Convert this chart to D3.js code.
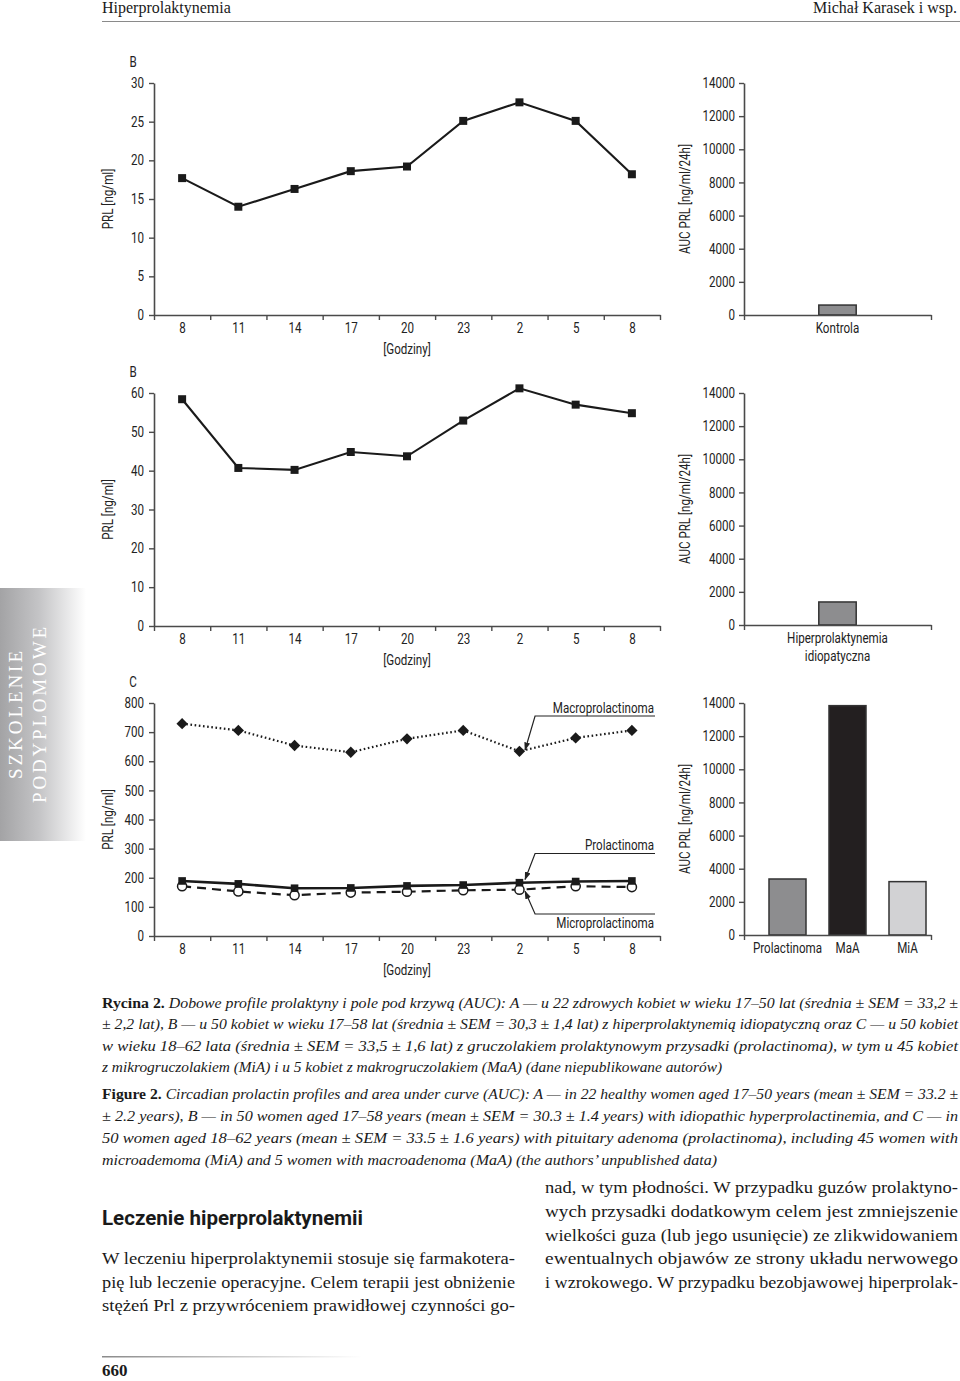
<!DOCTYPE html>
<html><head><meta charset="utf-8">
<script src="https://cdn.jsdelivr.net/npm/d3@7/dist/d3.min.js"></script>
<style>
html,body{margin:0;padding:0;background:#fff;}
svg{display:block;}
</style></head>
<body>
<svg id="page" width="960" height="1381"></svg>
<script>
// ---------------- DATA ----------------
const hours = ["8","11","14","17","20","23","2","5","8"];
const prlA = [17.7,14.0,16.3,18.6,19.2,25.1,27.5,25.1,18.2];
const prlB = [58.4,40.7,40.2,44.8,43.7,52.9,61.2,57.0,54.8];
const macroC = [729,706,654,631,677,706,634,680,706];
const prolactC = [189,179,164,165,172,175,183,187,189];
const microC = [171,153,140,149,152,157,159,171,168];
const aucCatsA = ["Kontrola"];
const aucValsA = [600];
const aucCatsB = ["Hiperprolaktynemia idiopatyczna"];
const aucValsB = [1390];
const aucCatsC = ["Prolactinoma","MaA","MiA"];
const aucValsC = [3380,13840,3220];
const aucTicks = [0,2000,4000,6000,8000,10000,12000,14000];
const ticksA = [0,5,10,15,20,25,30];
const ticksB = [0,10,20,30,40,50,60];
const ticksC = [0,100,200,300,400,500,600,700,800];

// ---------------- STYLE ----------------
const SANS = "Roboto,'Liberation Sans',sans-serif";
const FS = 14.5;
const SERIF = "'Liberation Serif','DejaVu Serif',serif";
const AX = "#4a4a4a";
const svg = d3.select("#page");

const defs = svg.append("defs");
const sideGrad = defs.append("linearGradient").attr("id","sideGrad").attr("x1","0").attr("x2","1").attr("y1","0").attr("y2","0");
sideGrad.append("stop").attr("offset","0").attr("stop-color","#a3a3a5");
sideGrad.append("stop").attr("offset","0.45").attr("stop-color","#c4c4c6");
sideGrad.append("stop").attr("offset","1").attr("stop-color","#ffffff");
const footGrad = defs.append("linearGradient").attr("id","footGrad").attr("x1","0").attr("x2","1");
footGrad.append("stop").attr("offset","0").attr("stop-color","#8a8a8a");
footGrad.append("stop").attr("offset","1").attr("stop-color","#ffffff");
defs.append("marker").attr("id","arrow").attr("viewBox","0 0 10 10").attr("refX",9).attr("refY",5)
  .attr("markerWidth",7).attr("markerHeight",7).attr("orient","auto-start-reverse")
  .append("path").attr("d","M0,1.5 L10,5 L0,8.5 Z").attr("fill","#222");

function label(xp, yp, s, anchor){
  return svg.append("text").attr("class","cn").attr("x",xp).attr("y",yp).attr("text-anchor",anchor||"start")
    .attr("font-family",SANS).attr("font-size",FS).attr("fill","#222").text(s);
}
function vlabel(xp, yp, s){
  return svg.append("text").attr("class","cn").attr("transform",`translate(${xp},${yp}) rotate(-90)`).attr("text-anchor","middle")
    .attr("font-family",SANS).attr("font-size",FS).attr("fill","#222").text(s);
}

// ---------------- HEADER ----------------
svg.append("text").attr("x",102).attr("y",13).attr("font-family",SERIF).attr("font-size",16)
  .attr("fill","#1a1a1a").text("Hiperprolaktynemia");
svg.append("text").attr("x",957).attr("y",13).attr("text-anchor","end").attr("font-family",SERIF).attr("font-size",16)
  .attr("fill","#1a1a1a").text("Michał Karasek i wsp.");
svg.append("line").attr("x1",102).attr("x2",960).attr("y1",21.5).attr("y2",21.5).attr("stroke","#8a8a8a").attr("stroke-width",1);

// side tab
svg.append("rect").attr("x",0).attr("y",588).attr("width",86).attr("height",253).attr("fill","url(#sideGrad)");
svg.append("text").attr("transform","translate(22,715) rotate(-90)").attr("text-anchor","middle")
  .attr("font-family",SERIF).attr("font-size",19).attr("fill","#fff").attr("textLength",128).attr("lengthAdjust","spacing").text("SZKOLENIE");
svg.append("text").attr("transform","translate(46,715) rotate(-90)").attr("text-anchor","middle")
  .attr("font-family",SERIF).attr("font-size",19).attr("fill","#fff").attr("textLength",176).attr("lengthAdjust","spacing").text("PODYPLOMOWE");

// ---------------- HELPERS ----------------
const X0 = 154, X1 = 660;
const x = d3.scaleLinear().domain([0,9]).range([X0,X1]);

function styleAxis(g){
  g.selectAll("path.domain").attr("stroke",AX).attr("stroke-width",1.6);
  g.selectAll(".tick line").attr("stroke",AX).attr("stroke-width",1.4);
  g.selectAll("text").attr("class","cn").attr("font-family",SANS).attr("font-size",FS).attr("fill","#222");
}

function lineFrame(top, bottom, maxV, ticks, letter){
  const y = d3.scaleLinear().domain([0,maxV]).range([bottom, top]);
  const gy = svg.append("g").attr("transform",`translate(${X0},0)`)
    .call(d3.axisLeft(y).tickValues(ticks).tickSize(5).tickSizeOuter(0).tickPadding(5).tickFormat(d3.format("d")));
  styleAxis(gy);
  const gx = svg.append("g").attr("transform",`translate(0,${bottom})`)
    .call(d3.axisBottom(x).tickValues(d3.range(10)).tickSize(5).tickSizeOuter(0).tickFormat(""));
  styleAxis(gx);
  const gl = svg.append("g").attr("transform",`translate(0,${bottom})`)
    .call(d3.axisBottom(x).tickValues(d3.range(9).map(i=>i+0.5)).tickSize(0).tickPadding(8)
      .tickFormat(d=>hours[Math.round(d-0.5)]));
  gl.select("path.domain").remove();
  styleAxis(gl);
  label(133, top-16, letter, "middle");
  vlabel(113, (top+bottom)/2, "PRL [ng/ml]");
  label((X0+X1)/2, bottom+39, "[Godziny]", "middle");
  return y;
}

function drawSeries(y, vals, opt){
  const line = d3.line().x((d,i)=>x(i+0.5)).y(d=>y(d));
  svg.append("path").datum(vals).attr("d",line).attr("fill","none").attr("stroke","#1a1a1a")
    .attr("stroke-width",opt.width||2).attr("stroke-dasharray",opt.dash||null);
  svg.append("g").selectAll("path").data(vals).join("path")
    .attr("transform",(d,i)=>`translate(${x(i+0.5)},${y(d)})${opt.rot?" rotate(45)":""}`)
    .attr("d", d3.symbol().type(opt.shape==="circle"?d3.symbolCircle:d3.symbolSquare).size(opt.size||64)())
    .attr("fill",opt.fill||"#1a1a1a").attr("stroke",opt.stroke||"none").attr("stroke-width",opt.sw||0);
}

function barFrame(top, bottom, cats, vals, colors, range, pin, pout){
  const XB0 = 744, XB1 = 931;
  const y = d3.scaleLinear().domain([0,14000]).range([bottom, top]);
  const xb = d3.scaleBand().domain(cats).range(range).paddingInner(pin).paddingOuter(pout);
  svg.append("g").selectAll("rect").data(vals).join("rect")
    .attr("x",(d,i)=>xb(cats[i])).attr("width",xb.bandwidth())
    .attr("y",d=>y(d)).attr("height",d=>bottom-y(d))
    .attr("fill",(d,i)=>colors[i]).attr("stroke","#333").attr("stroke-width",1.5);
  const gy = svg.append("g").attr("transform",`translate(${XB0},0)`)
    .call(d3.axisLeft(y).tickValues(aucTicks).tickSize(5).tickSizeOuter(0).tickPadding(4).tickFormat(d3.format("d")));
  styleAxis(gy);
  const xf = d3.scaleLinear().domain([0,1]).range([XB0,XB1]);
  const gx = svg.append("g").attr("transform",`translate(0,${bottom})`)
    .call(d3.axisBottom(xf).tickValues([0,1]).tickSize(5).tickSizeOuter(0).tickFormat(""));
  styleAxis(gx);
  const gl = svg.append("g").attr("transform",`translate(0,${bottom})`)
    .call(d3.axisBottom(xb).tickSize(0).tickPadding(8));
  gl.select("path.domain").remove();
  styleAxis(gl);
  gl.selectAll(".tick text").each(function(d){
    const words = d.split(" ");
    if(words.length>1){
      const t = d3.select(this); t.text(null);
      words.forEach((w,k)=>t.append("tspan").attr("x",0).attr("dy",k===0?"0.71em":"1.2em").text(w));
    }
  });
  vlabel(690, (top+bottom)/2, "AUC PRL [ng/ml/24h]");
}

// ---------------- PANEL A ----------------
const yA = lineFrame(83, 315, 30, ticksA, "B");
drawSeries(yA, prlA, {width:2.1, size:64});
barFrame(83, 315, aucCatsA, aucValsA, ["#8d8d8f"], [744,931], 0.8, 0.4);

// ---------------- PANEL B ----------------
const yB = lineFrame(393, 626, 60, ticksB, "B");
drawSeries(yB, prlB, {width:2.1, size:64});
barFrame(393, 625, aucCatsB, aucValsB, ["#8d8d8f"], [744,931], 0.8, 0.4);

// ---------------- PANEL C ----------------
const yC = lineFrame(703, 936, 800, ticksC, "C");
drawSeries(yC, macroC, {width:2.2, dash:"1.6,2.6", shape:"square", rot:true, size:64});
drawSeries(yC, microC, {width:2.2, dash:"9,6", shape:"circle", size:66, fill:"#fff", stroke:"#1a1a1a", sw:1.5});
drawSeries(yC, prolactC, {width:2.6, size:58});
barFrame(703, 935, aucCatsC, aucValsC, ["#8d8d8f","#231f20","#d2d2d4"], [751,944], 0.3833, 0.3);

// callouts
function interp(vals, t){ const i=Math.floor(t), f=t-i; return vals[i]+(vals[i+1]-vals[i])*f; }
function callout(lab, vals, t, dy, lineY, textY){
  const tipX = x(t+0.5), tipY = yC(interp(vals,t)) + dy;
  const startX = tipX + 10;
  svg.append("path").attr("d",`M655,${lineY} L${startX},${lineY} L${tipX},${tipY}`)
    .attr("fill","none").attr("stroke","#222").attr("stroke-width",1.2).attr("marker-end","url(#arrow)");
  label(654, textY, lab, "end");
}
callout("Macroprolactinoma", macroC, 6.1, 0, 716, 713);
callout("Prolactinoma", prolactC, 6.1, -3, 853.5, 850);
callout("Microprolactinoma", microC, 6.1, 2, 914, 928);

// condense sans labels (narrow typeface look)
svg.selectAll("text.cn").each(function(){
  const tsp = this.querySelectorAll("tspan");
  const f = 0.8;
  if(tsp.length){
    tsp.forEach(ts=>{ const L = ts.getComputedTextLength(); ts.setAttribute("textLength", L*f); ts.setAttribute("lengthAdjust","spacingAndGlyphs"); });
  } else {
    const L = this.getComputedTextLength();
    this.setAttribute("textLength", L*f); this.setAttribute("lengthAdjust","spacingAndGlyphs");
  }
});

// ---------------- CAPTION ----------------
const capLines = [
  {b:"Rycina 2.", t:" Dobowe profile prolaktyny i pole pod krzywą (AUC): A — u 22 zdrowych kobiet w wieku 17–50 lat (średnia ± SEM = 33,2 ±", y:1008, w:856},
  {b:"", t:"± 2,2 lat), B — u 50 kobiet w wieku 17–58 lat (średnia ± SEM = 30,3 ± 1,4 lat) z hiperprolaktynemią idiopatyczną oraz C — u 50 kobiet", y:1029, w:856},
  {b:"", t:"w wieku 18–62 lata (średnia ± SEM = 33,5 ± 1,6 lat) z gruczolakiem prolaktynowym przysadki (prolactinoma), w tym u 45 kobiet", y:1051, w:856},
  {b:"", t:"z mikrogruczolakiem (MiA) i u 5 kobiet z makrogruczolakiem (MaA) (dane niepublikowane autorów)", y:1072, w:620},
  {b:"Figure 2.", t:" Circadian prolactin profiles and area under curve (AUC): A — in 22 healthy women aged 17–50 years (mean ± SEM = 33.2 ±", y:1099, w:856},
  {b:"", t:"± 2.2 years), B — in 50 women aged 17–58 years (mean ± SEM = 30.3 ± 1.4 years) with idiopathic hyperprolactinemia, and C — in", y:1121, w:856},
  {b:"", t:"50 women aged 18–62 years (mean ± SEM = 33.5 ± 1.6 years) with pituitary adenoma (prolactinoma), including 45 women with", y:1143, w:856},
  {b:"", t:"microademoma (MiA) and 5 women with macroadenoma (MaA) (the authors’ unpublished data)", y:1165, w:615}
];
capLines.forEach(l=>{
  const t = svg.append("text").attr("x",102).attr("y",l.y).attr("font-family",SERIF).attr("font-size",15.5)
    .attr("fill","#1a1a1a").attr("textLength",l.w).attr("lengthAdjust","spacingAndGlyphs");
  if(l.b) t.append("tspan").attr("font-weight","bold").text(l.b);
  t.append("tspan").attr("font-style","italic").text(l.t);
});

// ---------------- BODY TEXT ----------------
svg.append("text").attr("x",102).attr("y",1225).attr("font-family","Roboto,'Liberation Sans',sans-serif")
  .attr("font-weight","bold").attr("font-size",21).attr("fill","#1a1a1a").attr("textLength",261).attr("lengthAdjust","spacingAndGlyphs")
  .text("Leczenie hiperprolaktynemii");
const leftCol = [
  ["W leczeniu hiperprolaktynemii stosuje się farmakotera-",1264],
  ["pię lub leczenie operacyjne. Celem terapii jest obniżenie",1288],
  ["stężeń Prl z przywróceniem prawidłowej czynności go-",1311]
];
const rightCol = [
  ["nad, w tym płodności. W przypadku guzów prolaktyno-",1193],
  ["wych przysadki dodatkowym celem jest zmniejszenie",1217],
  ["wielkości guza (lub jego usunięcie) ze zlikwidowaniem",1241],
  ["ewentualnych objawów ze strony układu nerwowego",1264],
  ["i wzrokowego. W przypadku bezobjawowej hiperprolak-",1288]
];
leftCol.forEach(([s,yy])=>svg.append("text").attr("x",102).attr("y",yy).attr("font-family",SERIF).attr("font-size",17.5)
  .attr("fill","#1a1a1a").attr("textLength",413).attr("lengthAdjust","spacingAndGlyphs").text(s));
rightCol.forEach(([s,yy])=>svg.append("text").attr("x",545).attr("y",yy).attr("font-family",SERIF).attr("font-size",17.5)
  .attr("fill","#1a1a1a").attr("textLength",413).attr("lengthAdjust","spacingAndGlyphs").text(s));

// ---------------- FOOTER ----------------
svg.append("rect").attr("x",102).attr("y",1356).attr("width",260).attr("height",1.5).attr("fill","url(#footGrad)");
svg.append("text").attr("x",102).attr("y",1376).attr("font-family",SERIF).attr("font-weight","bold").attr("font-size",17)
  .attr("fill","#1a1a1a").text("660");
</script>
</body></html>
